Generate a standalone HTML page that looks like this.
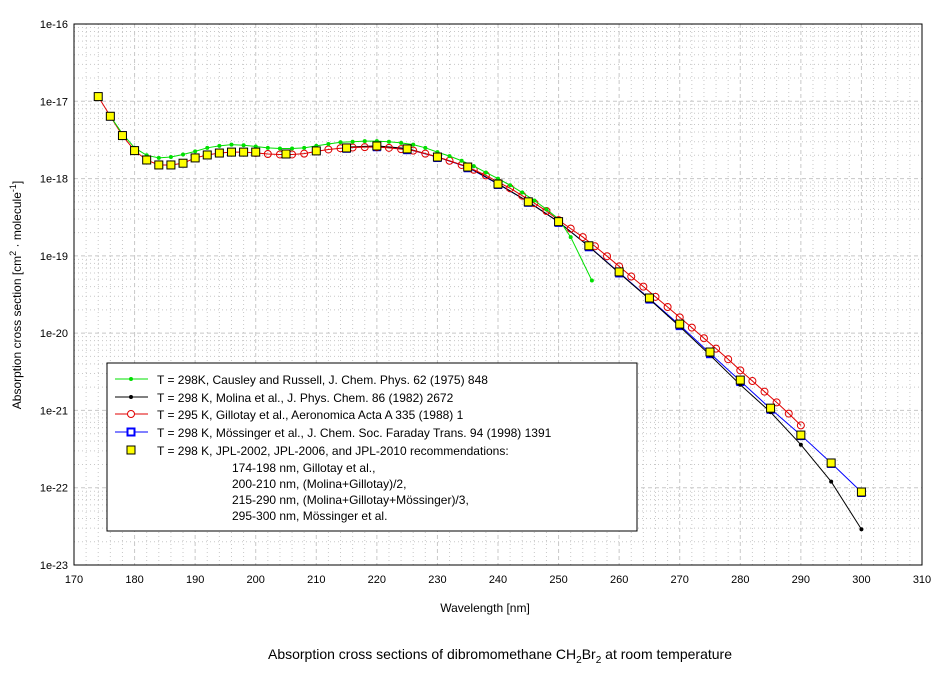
<!DOCTYPE html>
<html><head><meta charset="utf-8"><style>
body{margin:0;background:#fff;font-family:"Liberation Sans",Arial,sans-serif}
svg text{font-family:"Liberation Sans",Arial,sans-serif}
</style></head><body>
<svg id="chart" width="944" height="671" xmlns="http://www.w3.org/2000/svg">
<g id="grid"></g>
<rect x="74" y="24" width="848" height="541" fill="none" stroke="#000" stroke-width="1"/>
<g id="ticks"></g>
<g id="series"></g>
<text x="485" y="612" font-size="12" text-anchor="middle">Wavelength [nm]</text>
<text transform="translate(21,295) rotate(-90)" font-size="12" text-anchor="middle">Absorption cross section [cm<tspan dy="-5" font-size="9">2</tspan><tspan dy="5"> · molecule</tspan><tspan dy="-5" font-size="9">-1</tspan><tspan dy="5">]</tspan></text>
<text x="500" y="659" font-size="14" text-anchor="middle">Absorption cross sections of dibromomethane CH<tspan dy="4" font-size="10">2</tspan><tspan dy="-4">Br</tspan><tspan dy="4" font-size="10">2</tspan><tspan dy="-4"> at room temperature</tspan></text>
<g>
<rect x="107" y="363" width="530" height="168" fill="#fff" stroke="#000"/>
<g><line x1="115" y1="379" x2="148" y2="379" stroke="#00e000"/><circle cx="131" cy="379" r="2" fill="#00e000"/><text x="157" y="384" font-size="12">T = 298K, Causley and Russell, J. Chem. Phys. 62 (1975) 848</text></g>
<g><line x1="115" y1="397" x2="148" y2="397" stroke="#000"/><circle cx="131" cy="397" r="2" fill="#000"/><text x="157" y="402" font-size="12">T = 298 K, Molina et al., J. Phys. Chem. 86 (1982) 2672</text></g>
<g><line x1="115" y1="414" x2="148" y2="414" stroke="#e00000"/><circle cx="131" cy="414" r="3.5" fill="#fff" stroke="#e00000"/><text x="157" y="419" font-size="12">T = 295 K, Gillotay et al., Aeronomica Acta A 335 (1988) 1</text></g>
<g><line x1="115" y1="432" x2="148" y2="432" stroke="#0000ff"/><rect x="127.5" y="428.5" width="7" height="7" fill="#fff" stroke="#0000ff" stroke-width="2"/><text x="157" y="437" font-size="12">T = 298 K, Mössinger et al., J. Chem. Soc. Faraday Trans. 94 (1998) 1391</text></g>
<g><rect x="127" y="446" width="8" height="8" fill="#ffff00" stroke="#000"/><text x="157" y="455" font-size="12">T = 298 K, JPL-2002, JPL-2006, and JPL-2010 recommendations:</text>
<text x="232" y="472" font-size="12">174-198 nm, Gillotay et al.,</text>
<text x="232" y="488" font-size="12">200-210 nm, (Molina+Gillotay)/2,</text>
<text x="232" y="504" font-size="12">215-290 nm, (Molina+Gillotay+Mössinger)/3,</text>
<text x="232" y="520" font-size="12">295-300 nm, Mössinger et al.</text></g>
</g>
</svg>
<script>
const xTicks=[170,180,190,200,210,220,230,240,250,260,270,280,290,300,310];
const yTickExp=[-16,-17,-18,-19,-20,-21,-22,-23];
const jplX=[174,176,178,180,182,184,186,188,190,192,194,196,198,200,205,210,215,220,225,230,235,240,245,250,255,260,265,270,275,280,285,290,295,300];
const jplY=[1.15e-17,6.4e-18,3.6e-18,2.3e-18,1.74e-18,1.5e-18,1.5e-18,1.58e-18,1.85e-18,2.02e-18,2.14e-18,2.2e-18,2.2e-18,2.2e-18,2.08e-18,2.28e-18,2.49e-18,2.64e-18,2.42e-18,1.9e-18,1.41e-18,8.5e-19,5.0e-19,2.77e-19,1.35e-19,6.2e-20,2.85e-20,1.31e-20,5.7e-21,2.47e-21,1.07e-21,4.8e-22,2.09e-22,8.8e-23];
const causX=[176,178,180,182,184,186,188,190,192,194,196,198,200,202,204,206,208,210,212,214,216,218,220,222,224,226,228,230,232,234,236,238,240,242,244,246,248,250,252,255.5];
const causY=[6.4e-18,3.8e-18,2.5e-18,2.0e-18,1.85e-18,1.9e-18,2.05e-18,2.25e-18,2.5e-18,2.65e-18,2.75e-18,2.7e-18,2.6e-18,2.5e-18,2.45e-18,2.45e-18,2.5e-18,2.65e-18,2.8e-18,2.95e-18,3.0e-18,3.05e-18,3.05e-18,3.0e-18,2.9e-18,2.75e-18,2.5e-18,2.2e-18,1.95e-18,1.7e-18,1.45e-18,1.2e-18,1.0e-18,8.2e-19,6.6e-19,5.2e-19,4.0e-19,3.0e-19,1.75e-19,4.8e-20];
const gilX=[174,176,178,180,182,184,186,188,190,192,194,196,198,200,202,204,206,208,210,212,214,216,218,220,222,224,226,228,230,232,234,236,238,240,242,244,246,248,250,252,254,256,258,260,262,264,266,268,270,272,274,276,278,280,282,284,286,288,290];
const gilY=[1.15e-17,6.4e-18,3.6e-18,2.3e-18,1.74e-18,1.5e-18,1.5e-18,1.58e-18,1.85e-18,2.02e-18,2.14e-18,2.2e-18,2.2e-18,2.15e-18,2.08e-18,2.05e-18,2.05e-18,2.1e-18,2.25e-18,2.38e-18,2.47e-18,2.52e-18,2.55e-18,2.55e-18,2.5e-18,2.4e-18,2.3e-18,2.1e-18,1.9e-18,1.7e-18,1.5e-18,1.3e-18,1.1e-18,9.0e-19,7.5e-19,6.0e-19,4.8e-19,3.8e-19,2.9e-19,2.25e-19,1.75e-19,1.33e-19,9.9e-20,7.3e-20,5.4e-20,4.0e-20,2.95e-20,2.18e-20,1.6e-20,1.18e-20,8.6e-21,6.3e-21,4.6e-21,3.3e-21,2.4e-21,1.75e-21,1.27e-21,9.1e-22,6.4e-22];
const molX=[215,220,225,230,235,240,245,250,255,260,265,270,275,280,285,290,295,300];
const molY=[2.55e-18,2.65e-18,2.45e-18,1.9e-18,1.42e-18,8.6e-19,5.0e-19,2.75e-19,1.32e-19,6.0e-20,2.75e-20,1.22e-20,5.2e-21,2.15e-21,9.5e-22,3.6e-22,1.2e-22,2.9e-23];
const mosX=[215,220,225,230,235,240,245,250,255,260,265,270,275,280,285,290,295,300];
const mosY=[2.5e-18,2.62e-18,2.4e-18,1.9e-18,1.4e-18,8.5e-19,5.0e-19,2.75e-19,1.33e-19,6.1e-20,2.8e-20,1.27e-20,5.5e-21,2.4e-21,1.05e-21,4.8e-22,2.09e-22,8.8e-23];

const NS='http://www.w3.org/2000/svg';
const X=v=>74+(v-170)*848/140;
const Y=v=>24+(-16-Math.log10(v))*541/7;
function mk(tag,attrs,parent){const e=document.createElementNS(NS,tag);for(const k in attrs)e.setAttribute(k,attrs[k]);parent.appendChild(e);return e;}
const grid=document.getElementById('grid'),ticks=document.getElementById('ticks'),ser=document.getElementById('series');
for(let v=172;v<310;v+=2){const l=mk('line',{x1:X(v),x2:X(v),y1:24,y2:565,stroke:'#c8c8c8','stroke-dasharray':(v%10===0?'4,3':'1,3')},grid);

}
for(let e=-23;e<-16;e++){for(let m=1;m<10;m++){const v=m*Math.pow(10,e);const y=Y(v);if(m===1&&e===-23)continue;const l=mk('line',{x1:74,x2:922,y1:y,y2:y,stroke:'#c8c8c8','stroke-dasharray':(m===1?'4,3':'1,3')},grid);

}}
xTicks.forEach(v=>{const t=mk('text',{x:X(v),y:583,'font-size':11,'text-anchor':'middle'},ticks);t.textContent=v;

});
yTickExp.forEach(e=>{const t=mk('text',{x:68,y:Y(Math.pow(10,e))+4,'font-size':11,'text-anchor':'end'},ticks);t.textContent='1e'+e;

});
function line(xs,ys,color,name,w){const p=mk('polyline',{points:xs.map((x,i)=>X(x)+','+Y(ys[i])).join(' '),fill:'none',stroke:color,'stroke-width':w||1},ser);

}
line(mosX,mosY,'#0000ff','mossinger-line');
mosX.forEach((x,i)=>{const r=mk('rect',{x:X(x)-4,y:Y(mosY[i])-3,width:8,height:8,fill:'#0000ff'},ser);

});
line(molX,molY,'#000','molina-line');
molX.forEach((x,i)=>{const c=mk('circle',{cx:X(x),cy:Y(molY[i]),r:2,fill:'#000'},ser);

});
line(gilX,gilY,'#e00000','gillotay-line');
gilX.forEach((x,i)=>{const c=mk('circle',{cx:X(x),cy:Y(gilY[i]),r:3.5,fill:'none',stroke:'#e00000'},ser);

});
line(causX,causY,'#00e000','causley-line');
causX.forEach((x,i)=>{const c=mk('circle',{cx:X(x),cy:Y(causY[i]),r:2,fill:'#00e000'},ser);

});
jplX.forEach((x,i)=>{const r=mk('rect',{x:X(x)-4,y:Y(jplY[i])-4,width:8,height:8,fill:'#ffff00',stroke:'#000'},ser);

});
</script>
</body></html>
